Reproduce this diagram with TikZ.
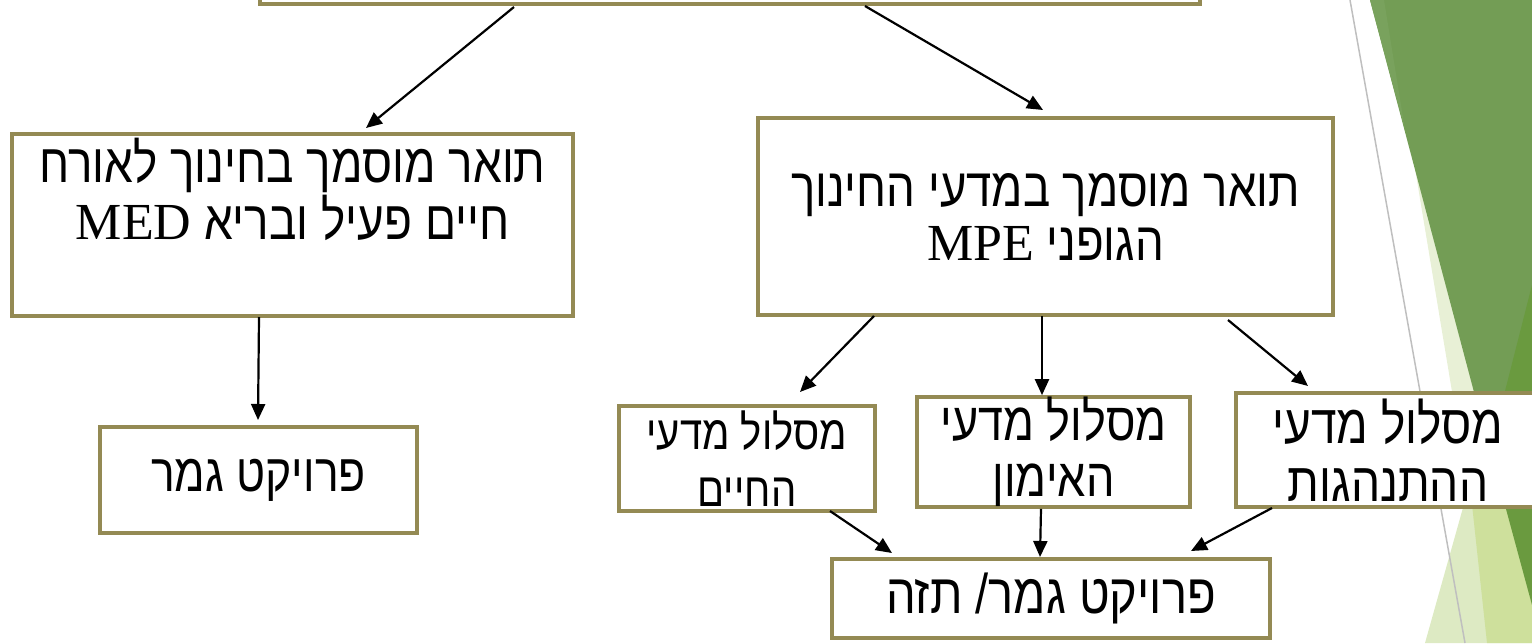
\documentclass[tikz,border=0pt]{standalone}
\usepackage{fontspec}
\setmainfont{Liberation Sans}
\newfontfamily\heb[Script=Hebrew,FakeStretch=0.84]{Liberation Sans}
\newfontfamily\rom{Liberation Serif}
\TeXXeTstate=1
\usetikzlibrary{arrows.meta,calc}
\definecolor{BoxClr}{rgb}{0.58,0.541,0.329}
\definecolor{FacetClr}{HTML}{739D55}
\definecolor{FacetTopClr}{HTML}{79A25D}
\definecolor{FacetDarkClr}{HTML}{6A9A3F}
\definecolor{FacetPaleClr}{HTML}{E8F0D6}
\definecolor{FacetLightClr}{HTML}{DDEAC3}
\definecolor{FacetMidClr}{HTML}{CEE09C}
\definecolor{RuleClr}{HTML}{BFBFBF}
\newcommand{\rtl}[1]{{\heb\beginR #1\endR}}
\newcommand{\ltr}[1]{{\rom\fontsize{26}{26}\selectfont\beginL #1\endL}}

\begin{document}
\begin{tikzpicture}[x=0.5pt,y=0.5pt,
  box/.style={draw=BoxClr,line width=2pt,fill=white,inner sep=0pt,outer sep=0pt,
    align=center,font=\fontsize{27}{26}\selectfont},
  track/.style={box,font=\fontsize{27}{28}\selectfont},
  arr/.style={-{Triangle[length=8pt,width=7pt]},line width=1.1pt,black}]

\useasboundingbox (0,0) rectangle (1532,-643);
\clip (0,0) rectangle (1532,-643);

\fill[FacetPaleClr] (1387,0) -- (1465,-470) -- (1532,-470) -- (1532,0) -- cycle;
\fill[FacetClr] (1370,0) -- (1492,-460) -- (1532,-460) -- (1532,0) -- cycle;
\fill[FacetTopClr] (1370,0) -- (1384,0) -- (1405,-130) -- cycle;
\fill[FacetLightClr] (1425,-643) -- (1482,-440) -- (1532,-600) -- (1532,-643) -- cycle;
\fill[FacetMidClr] (1465,-440) -- (1487,-643) -- (1532,-643) -- (1532,-440) -- cycle;
\fill[FacetDarkClr] (1532,-285) -- (1490,-450) -- (1532,-605) -- cycle;
\draw[RuleClr,line width=0.75pt] (1350,0) -- (1465,-643);

\node[box,minimum width=470pt,minimum height=60pt] (degree) at (730,56) {};

\node[box,font=\fontsize{27.3}{26}\selectfont,minimum width=280.5pt,minimum height=91pt] (med) at (292.5,-225)
  {\rtl{תואר מוסמך בחינוך לאורח}\\\rtl{חיים פעיל ובריא \ltr{MED}}\\[10pt]\mbox{}};
\node[box,font=\fontsize{26.5}{26}\selectfont,minimum width=158.5pt,minimum height=53pt] (medproj) at (258.5,-480)
  {\rtl{פרויקט גמר}};

\node[box,font=\fontsize{27.1}{27}\selectfont,minimum width=287.5pt,minimum height=98.5pt] (mpe) at (1045.5,-216.5)
  {\rtl{תואר מוסמך במדעי החינוך}\\\rtl{הגופני \ltr{MPE}}};

\node[track,font=\fontsize{23.8}{28.5}\selectfont,minimum width=128pt,minimum height=52.5pt] (life) at (747,-458.5)
  {\rtl{מסלול מדעי}\\\rtl{החיים}};
\node[track,font=\fontsize{26.8}{28}\selectfont,minimum width=136.5pt,minimum height=54pt] (train) at (1053.5,-452)
  {\rtl{מסלול מדעי}\\\rtl{האימון}};
\node[track,font=\fontsize{27.4}{29}\selectfont,minimum width=152pt,minimum height=57pt] (behav) at (1388,-450)
  {\rtl{מסלול מדעי}\\\rtl{ההתנהגות}};

\node[box,font=\fontsize{28}{28}\selectfont,minimum width=219pt,minimum height=39.5pt] (thesis) at (1051,-598)
  {\rtl{פרויקט גמר/ תזה}};

\draw[arr] ($(degree.south)+(-216,-3)$) -- ($(med.north)+(73.5,6)$);
\draw[arr] ($(degree.south)+(135,-2)$) -- ($(mpe.north)+(-2.5,8)$);
\draw[arr] ($(med.south)+(-33.5,-1)$) -- ($(medproj.north)+(-0.5,7)$);

\draw[arr] ($(mpe.south)+(-171.5,-1)$) -- ($(life.north)+(53,14)$);
\draw[arr] ($(mpe.south)+(-3.5,-1)$) -- ($(train.north)+(-11.5,2)$);
\draw[arr] ($(mpe.south)+(182.5,-5)$) -- ($(behav.north)+(-80,7)$);

\draw[arr] ($(life.south)+(83,0)$) -- ($(thesis.north)+(-159,5.5)$);
\draw[arr] ($(train.south)+(-12.5,-2)$) -- ($(thesis.north)+(-11,1.5)$);
\draw[arr] ($(behav.south)+(-116,-1)$) -- ($(thesis.north)+(140,7.5)$);

\end{tikzpicture}
\end{document}
